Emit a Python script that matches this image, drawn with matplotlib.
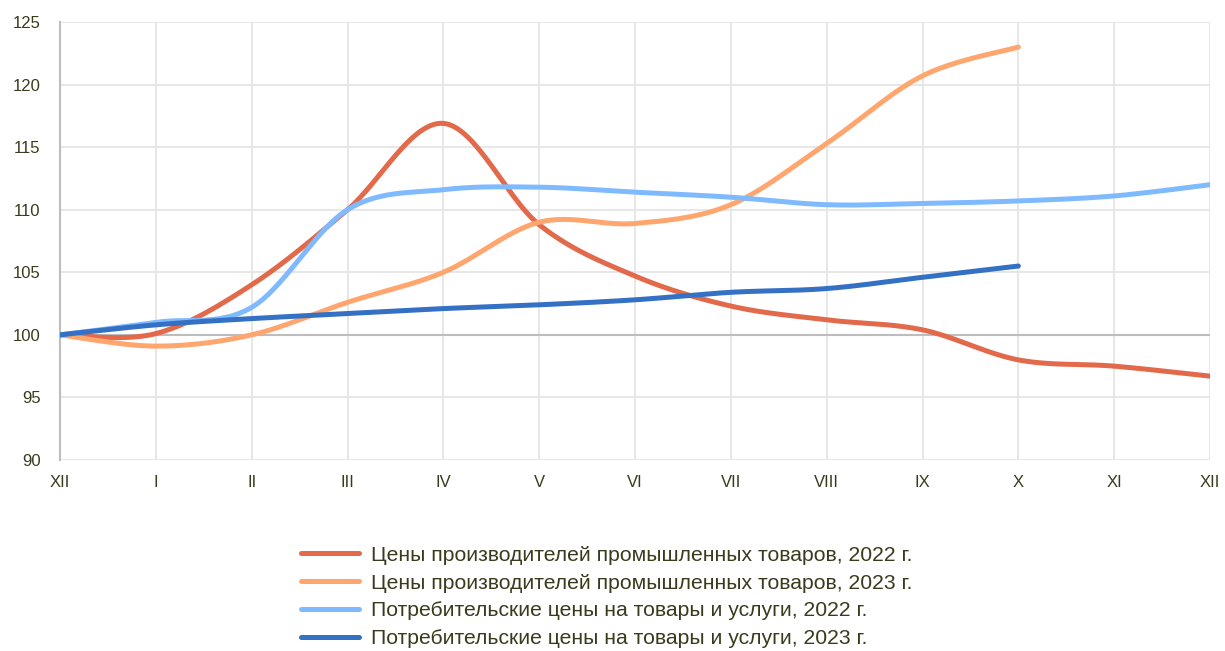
import matplotlib
matplotlib.use("Agg")
import matplotlib.pyplot as plt
import numpy as np

plt.rcParams['font.family'] = ['Liberation Sans', 'DejaVu Sans']

months = ["XII", "I", "II", "III", "IV", "V", "VI", "VII", "VIII", "IX", "X", "XI", "XII"]

ppi_2022 = [100, 100.1, 104.0, 110.0, 116.9, 108.8, 104.7, 102.3, 101.2, 100.4, 98.0, 97.5, 96.7]
ppi_2023 = [100, 99.1, 100.0, 102.6, 105.0, 109.0, 108.9, 110.4, 115.3, 120.7, 123.0]
cpi_2022 = [100, 101.0, 102.2, 110.0, 111.6, 111.8, 111.4, 111.0, 110.4, 110.5, 110.7, 111.1, 112.0]
cpi_2023 = [100, 100.8, 101.3, 101.7, 102.1, 102.4, 102.8, 103.4, 103.7, 104.6, 105.5]

labels = ["Цены производителей промышленных товаров, 2022 г.",
          "Цены производителей промышленных товаров, 2023 г.",
          "Потребительские цены на товары и услуги, 2022 г.",
          "Потребительские цены на товары и услуги, 2023 г."]
colors = ["#E2694A", "#FFA66E", "#7FBAFF", "#3470C4"]


# smoothed line like a spreadsheet chart (catmull-rom through the points)
def smooth(vals, n=30):
        x = np.arange(len(vals), dtype=float)
        y = np.array(vals, dtype=float)
        xs, ys = [], []
        for i in range(len(x) - 1):
                p0 = (x[max(i - 1, 0)], y[max(i - 1, 0)])
                p1 = (x[i], y[i])
                p2 = (x[i + 1], y[i + 1])
                p3 = (x[min(i + 2, len(x) - 1)], y[min(i + 2, len(x) - 1)])
                c1 = (p1[0] + (p2[0] - p0[0]) / 6, p1[1] + (p2[1] - p0[1]) / 6)
                c2 = (p2[0] - (p3[0] - p1[0]) / 6, p2[1] - (p3[1] - p1[1]) / 6)
                t = np.linspace(0, 1, n)
                a, b, c, d = (1 - t) ** 3, 3 * (1 - t) ** 2 * t, 3 * (1 - t) * t ** 2, t ** 3
                xs.append(a * p1[0] + b * c1[0] + c * c2[0] + d * p2[0])
                ys.append(a * p1[1] + b * c1[1] + c * c2[1] + d * p2[1])
        return np.concatenate(xs), np.concatenate(ys)


fig = plt.figure(figsize=(12.25, 6.51), dpi=100)
ax = fig.add_axes([0.049, 0.2934, 0.9388, 0.6728])

for vals, col, lab in zip([ppi_2022, ppi_2023, cpi_2022, cpi_2023], colors, labels):
        sx, sy = smooth(vals)
        ax.plot(sx, sy, color=col, lw=3.6, label=lab, solid_capstyle="round", zorder=3)

ax.set_xlim(0, 12)
ax.set_ylim(90, 125)
ax.set_xticks(range(len(months)))
ax.set_xticklabels(months)
ax.set_yticks(range(90, 126, 5))
ax.grid(True, color="#e5e5e5", lw=1.3)
ax.axhline(100, color="#bdbdbd", lw=1.5, zorder=2)
for s in ["top", "right", "bottom"]:
        ax.spines[s].set_visible(False)
ax.spines["left"].set_color("#bdbdbd")
ax.spines["left"].set_linewidth(1.5)
ax.tick_params(length=0, labelsize=12, labelcolor="#3a3a1c")
ax.tick_params(axis="y", pad=14)
ax.tick_params(axis="x", pad=11)

fig.legend(loc="upper left", bbox_to_anchor=(0.237, 0.178), frameon=False,
           fontsize=15.2, labelcolor="#3a3a1c", handlelength=2.75, handletextpad=0.55,
           labelspacing=0.42, borderpad=0)

fig.savefig("out.png", dpi=100)
